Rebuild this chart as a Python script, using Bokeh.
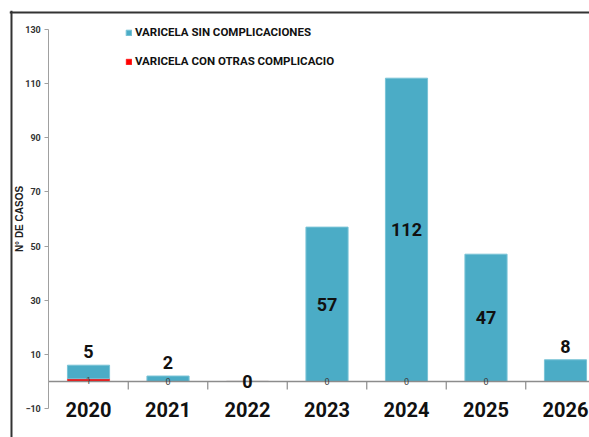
from bokeh.plotting import figure
from bokeh.models import (ColumnDataSource, Range1d, FixedTicker, Span, Legend, LegendItem)
from bokeh.core.properties import value
from bokeh.embed import file_html
from bokeh.resources import INLINE

# ---- data ----
years = ["2020", "2021", "2022", "2023", "2024", "2025", "2026"]
sin_complicaciones = [5, 2, 0, 57, 112, 47, 8]
con_complicaciones = [1, 0, None, 0, 0, 0, None]
y_ticks = [-10, 10, 30, 50, 70, 90, 110, 130]
label_sin = "VARICELA SIN COMPLICACIONES"
label_con = "VARICELA CON OTRAS COMPLICACIO"
y_title = "N° DE CASOS"

BLUE = "#4BACC6"
RED = "#FF0000"
FONT = "Roboto"

idx = list(range(len(years)))
red_h = [0 if v is None else v for v in con_complicaciones]
blue_bottom = red_h
blue_top = [b + v for b, v in zip(red_h, sin_complicaciones)]

# the frame is the whole bordered chart box; the axes sit inside it
X0, X1 = -0.994, 6.302
Y0, Y1 = -20.7, 137.0
p = figure(width=589, height=437, output_backend="svg", toolbar_location=None,
           x_range=Range1d(X0, X1), y_range=Range1d(Y0, Y1),
           min_border_left=9, min_border_right=0, min_border_top=10,
           min_border_bottom=0)
p.outline_line_color = None
p.grid.visible = False
p.background_fill_color = "white"

# chart box border (top & left edges visible, right/bottom cropped)
p.add_layout(Span(location=X0 + 0.025, dimension="height", line_color="#333333", line_width=2))
p.add_layout(Span(location=Y1 - 0.7, dimension="width", line_color="#333333", line_width=2))

red_src = ColumnDataSource(dict(x=idx, top=red_h, bottom=[0] * len(idx)))
blue_src = ColumnDataSource(dict(x=idx, top=blue_top, bottom=blue_bottom))

r_red = p.vbar(x="x", top="top", bottom="bottom", width=0.53, source=red_src,
               fill_color=RED, line_color=RED, line_width=0.5)
r_blue = p.vbar(x="x", top="top", bottom="bottom", width=0.53, source=blue_src,
                fill_color=BLUE, line_color="#79c3d6", line_width=1)

# baseline and category separators
p.segment(x0=[-0.5], x1=[X1], y0=[0], y1=[0], line_color="#8c8c8c", line_width=1.5)
sep_x = [i + 0.5 for i in idx[:-1]]
p.segment(x0=sep_x, x1=sep_x, y0=[0] * len(sep_x), y1=[-3] * len(sep_x),
          line_color="#8c8c8c", line_width=1.2)

# labels for blue series
lx, ly, lt, lb, lo = [], [], [], [], []
for i, (v, base) in enumerate(zip(sin_complicaciones, red_h)):
    lx.append(i)
    lt.append(str(v))
    if v == 0:
        ly.append(base); lb.append("middle"); lo.append(0)
    elif v < 10:
        ly.append(base + v); lb.append("bottom"); lo.append(-7)
    else:
        ly.append(base + v / 2); lb.append("middle"); lo.append(0)
lab_src = ColumnDataSource(dict(x=lx, y=ly, t=lt, b=lb, o=lo))
p.text(x="x", y="y", text="t", source=lab_src, text_align="center",
       text_baseline="b", y_offset="o", text_font=value(FONT),
       text_font_style="bold", text_font_size="18px", text_color="#111111")

# labels for red series
rx = [i for i, v in enumerate(con_complicaciones) if v is not None]
ry = [con_complicaciones[i] / 2 for i in rx]
rt = [str(con_complicaciones[i]) for i in rx]
p.text(x=rx, y=ry, text=rt, text_align="center", text_baseline="middle",
       text_font=value(FONT), text_font_size="9px", text_color="#404040")

# axes (placed inside the box)
p.xaxis.fixed_location = y_ticks[0]
p.xaxis.ticker = FixedTicker(ticks=idx)
p.xaxis.major_label_overrides = {i: y for i, y in zip(idx, years)}
p.xaxis.axis_line_color = None
p.xaxis.major_tick_line_color = None
p.xaxis.minor_tick_line_color = None
p.xaxis.major_tick_out = 0
p.xaxis.major_label_standoff = -7
p.xaxis.major_label_text_font = FONT
p.xaxis.major_label_text_font_style = "bold"
p.xaxis.major_label_text_font_size = "20px"
p.xaxis.major_label_text_color = "#111111"

p.yaxis.fixed_location = -0.5
p.yaxis.bounds = (y_ticks[0], y_ticks[-1])
p.yaxis.ticker = FixedTicker(ticks=y_ticks)
p.yaxis.axis_line_color = "#a0a0a0"
p.yaxis.major_tick_line_color = "#a0a0a0"
p.yaxis.major_tick_out = 4
p.yaxis.major_tick_in = 0
p.yaxis.minor_tick_line_color = None
p.yaxis.major_label_standoff = 4
p.yaxis.major_label_text_font = FONT
p.yaxis.major_label_text_font_style = "bold"
p.yaxis.major_label_text_font_size = "9px"
p.yaxis.major_label_text_color = "#333333"
p.yaxis.axis_label = y_title
p.yaxis.axis_label_text_font = "Liberation Sans"
p.yaxis.axis_label_text_font_style = "bold"
p.yaxis.axis_label_text_font_size = "10px"
p.yaxis.axis_label_text_color = "#222222"
p.yaxis.axis_label_standoff = -3

legend = Legend(items=[LegendItem(label=label_sin, renderers=[r_blue]),
                       LegendItem(label=label_con, renderers=[r_red])],
                location=(116, 366), orientation="vertical",
                glyph_width=7, glyph_height=7, label_standoff=3,
                label_height=20, spacing=9, padding=0, margin=0,
                border_line_color=None, background_fill_alpha=0,
                label_text_font=FONT, label_text_font_style="bold",
                label_text_font_size="11.5px", label_text_color="#111111")
p.add_layout(legend)

open("out.html", "w").write(file_html(p, INLINE))
